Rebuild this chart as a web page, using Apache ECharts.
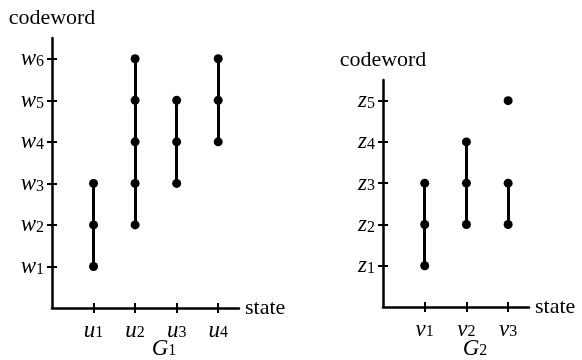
<!DOCTYPE html>
<html><head><meta charset="utf-8">
<script src="https://cdn.jsdelivr.net/npm/echarts@6/dist/echarts.min.js"></script>
<style>html,body{margin:0;padding:0;background:#fff}#c{width:582px;height:360px}</style>
</head><body><div id="c"></div>
<script>
// Graph G1
const g1States = ['u_1', 'u_2', 'u_3', 'u_4'];
const g1Codewords = ['w_1', 'w_2', 'w_3', 'w_4', 'w_5', 'w_6'];
const g1Sets = [[1, 2, 3], [2, 3, 4, 5, 6], [3, 4, 5], [4, 5, 6]];
const g1Runs = [[[1, 3]], [[2, 6]], [[3, 5]], [[4, 6]]];
// Graph G2
const g2States = ['v_1', 'v_2', 'v_3'];
const g2Codewords = ['z_1', 'z_2', 'z_3', 'z_4', 'z_5'];
const g2Sets = [[1, 2, 3], [2, 3, 4], [2, 3, 5]];
const g2Runs = [[[1, 3]], [[2, 4]], [[2, 3]]];
const graphNames = ['G_1', 'G_2'];

const FONT = 'Liberation Serif';
const rich = {
  i: { fontFamily: FONT, fontStyle: 'italic', fontSize: 23, lineHeight: 22, color: '#000', verticalAlign: 'top' },
  s: { fontFamily: FONT, fontSize: 16, lineHeight: 12, color: '#000', verticalAlign: 'bottom' }
};
function sub(str) { const p = str.split('_'); return '{i|' + p[0] + '}{s|' + p[1] + '}'; }
function range(n) { return Array.from({ length: n }, (_, k) => k + 1); }

function axesFor(grid, dim, max, labels, name) {
  const isX = dim === 'x';
  const ticks = range(labels.length);
  const main = {
    gridIndex: grid, type: 'value', min: 0, max: max, position: isX ? 'bottom' : 'left', offset: 0,
    axisLine: { show: true, onZero: false, lineStyle: { color: '#000', width: 2.5 } },
    axisTick: { show: true, length: 5, customValues: ticks, lineStyle: { color: '#000', width: 2 } },
    axisLabel: { customValues: ticks, margin: isX ? 11 : 8, formatter: v => sub(labels[Math.round(v) - 1]), rich: rich },
    splitLine: { show: false },
    name: name, nameLocation: 'end', nameGap: isX ? 6 : 9,
    nameTextStyle: { fontFamily: FONT, fontSize: 22, color: '#000', align: isX ? 'left' : 'center', verticalAlign: isX ? 'middle' : 'bottom' }
  };
  const inner = {
    gridIndex: grid, type: 'value', min: 0, max: max, position: isX ? 'bottom' : 'left', offset: 0,
    axisLine: { show: false },
    axisTick: { show: true, inside: true, length: 5, customValues: ticks, lineStyle: { color: '#000', width: 2 } },
    axisLabel: { show: false }, splitLine: { show: false }
  };
  return [main, inner];
}

const xAxis = [...axesFor(0, 'x', 4.5, g1States, 'state'), ...axesFor(1, 'x', 3.5, g2States, 'state')];
const yAxis = [...axesFor(0, 'y', 6.5, g1Codewords, 'codeword'), ...axesFor(1, 'y', 5.5, g2Codewords, 'codeword')];

function seriesFor(sets, runs, grid) {
  const xi = grid * 2, yi = grid * 2;
  const segs = [];
  runs.forEach((rs, k) => rs.forEach(r => segs.push({ coords: [[k + 1, r[0]], [k + 1, r[1]]] })));
  const pts = [];
  sets.forEach((s, k) => s.forEach(v => pts.push([k + 1, v])));
  return [
    { type: 'lines', coordinateSystem: 'cartesian2d', xAxisIndex: xi, yAxisIndex: yi, data: segs,
      lineStyle: { color: '#000', width: 3, opacity: 1 }, symbol: 'none', silent: true, z: 2 },
    { type: 'scatter', xAxisIndex: xi, yAxisIndex: yi, data: pts, symbol: 'circle', symbolSize: 9,
      itemStyle: { color: '#000', opacity: 1 }, silent: true, z: 3 }
  ];
}

const chart = echarts.init(document.getElementById('c'), null, { renderer: 'canvas' });
chart.setOption({
  animation: false,
  backgroundColor: '#fff',
  grid: [
    { left: 52, top: 38, width: 187, height: 270 },
    { left: 383, top: 80, width: 146, height: 227 }
  ],
  xAxis: xAxis,
  yAxis: yAxis,
  series: [...seriesFor(g1Sets, g1Runs, 0), ...seriesFor(g2Sets, g2Runs, 1)],
  graphic: [
    { type: 'text', x: 164, y: 348, style: { text: sub(graphNames[0]), rich: rich, align: 'center', verticalAlign: 'middle' } },
    { type: 'text', x: 475, y: 348, style: { text: sub(graphNames[1]), rich: rich, align: 'center', verticalAlign: 'middle' } }
  ]
});
</script></body></html>
